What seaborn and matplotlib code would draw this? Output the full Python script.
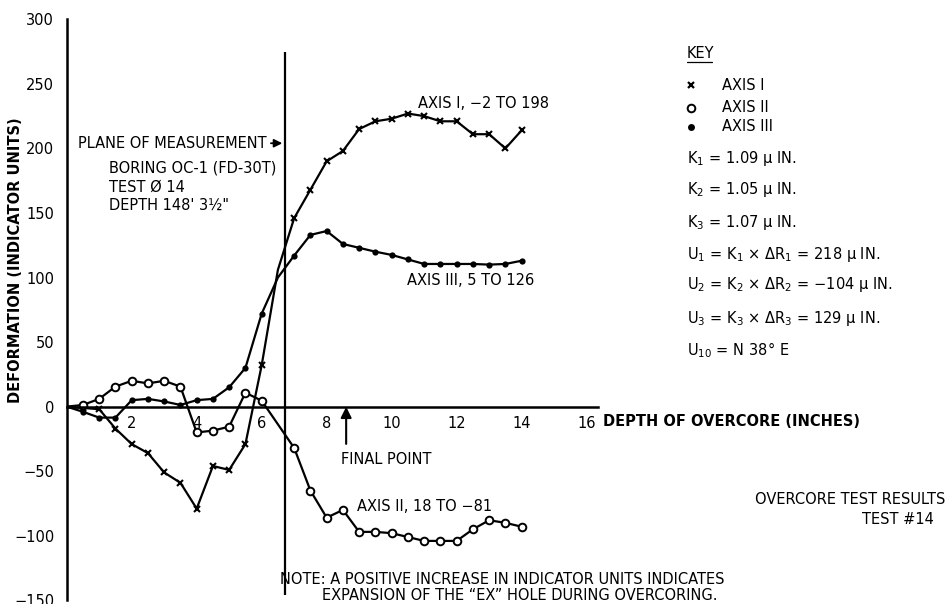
import matplotlib
matplotlib.use("Agg")
import matplotlib.pyplot as plt
import seaborn as sns
import pandas as pd
from matplotlib.lines import Line2D

# depth of overcore (inches) -- axis I and III share the grid, axis II skips 6.5
depth = [0, 0.5, 1, 1.5, 2, 2.5, 3, 3.5, 4, 4.5, 5, 5.5, 6, 6.5, 7, 7.5,
         8, 8.5, 9, 9.5, 10, 10.5, 11, 11.5, 12, 12.5, 13, 13.5, 14]
axis_1 = [0, -1, -2, -17, -29, -36, -51, -59, -79, -46, -49, -29, 32, 106, 146,
          168, 190, 198, 215, 221, 223, 227, 225, 221, 221, 211, 211, 200, 214]
axis_3 = [0, -4, -8.5, -8.5, 5, 6, 4, 1.3, 5, 6, 15, 30, 72, 100, 117, 133,
          136, 126, 123, 120, 117.5, 114, 110.5, 110.5, 110.5, 110.5, 110, 110.5, 113]
depth_2 = [0, 0.5, 1, 1.5, 2, 2.5, 3, 3.5, 4, 4.5, 5, 5.5, 6, 7, 7.5,
           8, 8.5, 9, 9.5, 10, 10.5, 11, 11.5, 12, 12.5, 13, 13.5, 14]
axis_2 = [0, 1.3, 6, 15.5, 20, 18, 20, 15.5, -20, -18.6, -15.5, 10.8, 4.6, -32, -65,
          -86, -80, -97, -97, -98, -101, -104, -104, -104, -95, -88, -90, -93]

x_ticks = [2, 4, 6, 8, 10, 12, 14, 16]
y_ticks = [-150, -100, -50, 0, 50, 100, 150, 200, 250, 300]

plane_depth = 6.72
final_depth = 8.6

key_labels = ["AXIS I", "AXIS II", "AXIS III"]
constants = [r"K$_1$ = 1.09 μ IN.", r"K$_2$ = 1.05 μ IN.", r"K$_3$ = 1.07 μ IN.",
             r"U$_1$ = K$_1$ × ΔR$_1$ = 218 μ IN.",
             r"U$_2$ = K$_2$ × ΔR$_2$ = −104 μ IN.",
             r"U$_3$ = K$_3$ × ΔR$_3$ = 129 μ IN.",
             r"U$_{10}$ = N 38° E"]
constants_y = [158, 190, 222, 254, 284, 318, 350]

sns.set_theme(style="white")
plt.rcParams["font.family"] = ["DejaVu Sans"]
plt.rcParams["mathtext.fontset"] = "dejavusans"
for k in ["text.color", "axes.labelcolor", "xtick.color", "ytick.color"]:
    plt.rcParams[k] = "black"
FS = 10.5

W, H = 950, 604
fig = plt.figure(figsize=(9.5, 6.04), dpi=100)
ax = fig.add_axes([66.7 / W, 1 - 600.3 / H, (598 - 66.7) / W, (600.3 - 19.3) / H])
ax.set_xlim(0, 16.35)
ax.set_ylim(-150, 300)

df13 = pd.DataFrame({"depth": depth, "axis_1": axis_1, "axis_3": axis_3})
df2 = pd.DataFrame({"depth": depth_2, "axis_2": axis_2})
marks13 = [i for i in range(1, len(depth)) if depth[i] != 6.5]
marks2 = list(range(1, len(depth_2)))

# seaborn gives markers a white edge by default -> force black edges
sns.lineplot(data=df13, x="depth", y="axis_1", ax=ax, color="black", lw=1.6,
             marker="x", markersize=4.5, mew=1.5, mec="black", markevery=marks13,
             estimator=None, sort=False)
sns.lineplot(data=df2, x="depth", y="axis_2", ax=ax, color="black", lw=1.6,
             marker="o", markersize=5.5, mew=1.4, mfc="white", mec="black",
             markevery=marks2, estimator=None, sort=False)
sns.lineplot(data=df13, x="depth", y="axis_3", ax=ax, color="black", lw=1.6,
             marker="o", markersize=4.5, mew=0, mfc="black", mec="black",
             markevery=marks13, estimator=None, sort=False)
ax.set_xlabel("")
ax.set_ylabel("")

# axes styling
for s in ["top", "right"]:
    ax.spines[s].set_visible(False)
ax.spines["bottom"].set_position(("data", 0))
for s in ["bottom", "left"]:
    ax.spines[s].set_linewidth(1.8)
    ax.spines[s].set_color("black")
ax.set_xticks(x_ticks)
ax.set_yticks(y_ticks)
ax.tick_params(axis="x", direction="inout", length=8, width=1.5, labelsize=FS,
               pad=3, colors="black")
ax.tick_params(axis="y", direction="out", length=7, width=1.5, labelsize=FS,
               pad=2, colors="black")
ax.grid(False)

# plane of measurement / final point
ax.vlines(plane_depth, -146, 275, color="black", lw=1.6)
ax.text(0.35, 204, "PLANE OF MEASUREMENT", fontsize=FS, va="center", ha="left")
ax.annotate("", xy=(plane_depth, 204), xytext=(6.2, 204),
            arrowprops=dict(arrowstyle="-|>", color="black", lw=1.3, mutation_scale=12))
ax.text(1.3, 184.6, "BORING OC-1 (FD-30T)", fontsize=FS, va="center")
ax.text(1.3, 170.3, "TEST Ø 14", fontsize=FS, va="center")
ax.text(1.3, 156, "DEPTH 148' 3½\"", fontsize=FS, va="center")

ax.annotate("", xy=(final_depth, 2), xytext=(final_depth, -31),
            arrowprops=dict(arrowstyle="-|>", color="black", lw=1.5, mutation_scale=16))
ax.text(8.43, -41, "FINAL POINT", fontsize=FS, va="center")

ax.text(10.8, 235, "AXIS I, −2 TO 198", fontsize=FS, va="center")
ax.text(10.46, 98, "AXIS III, 5 TO 126", fontsize=FS, va="center")
ax.text(8.94, -77.5, "AXIS II, 18 TO −81", fontsize=FS, va="center")

ax.text(16.5, -11.6, "DEPTH OF OVERCORE (INCHES)", fontsize=FS, fontweight="bold",
        va="center", ha="left")
fig.text(16 / W, 1 - 403 / H, "DEFORMATION (INDICATOR UNITS)", fontsize=FS,
         fontweight="bold", rotation=90, ha="center", va="bottom")

# key
def fy(py):
    return 1 - py / H

fig.text(686.7 / W, fy(54), "KEY", fontsize=FS, va="center")
fig.add_artist(Line2D([686.7 / W, 712 / W], [fy(62), fy(62)], color="black", lw=0.9))
key_y = [85, 107.7, 126.7]
fig.add_artist(Line2D([690.7 / W], [fy(key_y[0])], marker="x", color="black",
                      markersize=4.5, mew=1.6))
fig.add_artist(Line2D([690.7 / W], [fy(key_y[1])], marker="o", color="black",
                      markersize=5.5, mew=1.4, mfc="white"))
fig.add_artist(Line2D([690.7 / W], [fy(key_y[2])], marker="o", color="black",
                      markersize=5, mew=0, mfc="black"))
for lab, yy in zip(key_labels, key_y):
    fig.text(721.7 / W, fy(yy), lab, fontsize=FS, va="center")
for lab, yy in zip(constants, constants_y):
    fig.text(686.7 / W, fy(yy), lab, fontsize=FS, va="center")

fig.text(945 / W, fy(500), "OVERCORE TEST RESULTS", fontsize=FS, ha="right", va="center")
fig.text(862 / W, fy(520), "TEST #14", fontsize=FS, ha="left", va="center")

fig.text(280 / W, fy(579), "NOTE: A POSITIVE INCREASE IN INDICATOR UNITS INDICATES",
         fontsize=FS, va="center")
fig.text(322 / W, fy(595), "EXPANSION OF THE “EX” HOLE DURING OVERCORING.",
         fontsize=FS, va="center")

fig.savefig("out.png", dpi=100)
